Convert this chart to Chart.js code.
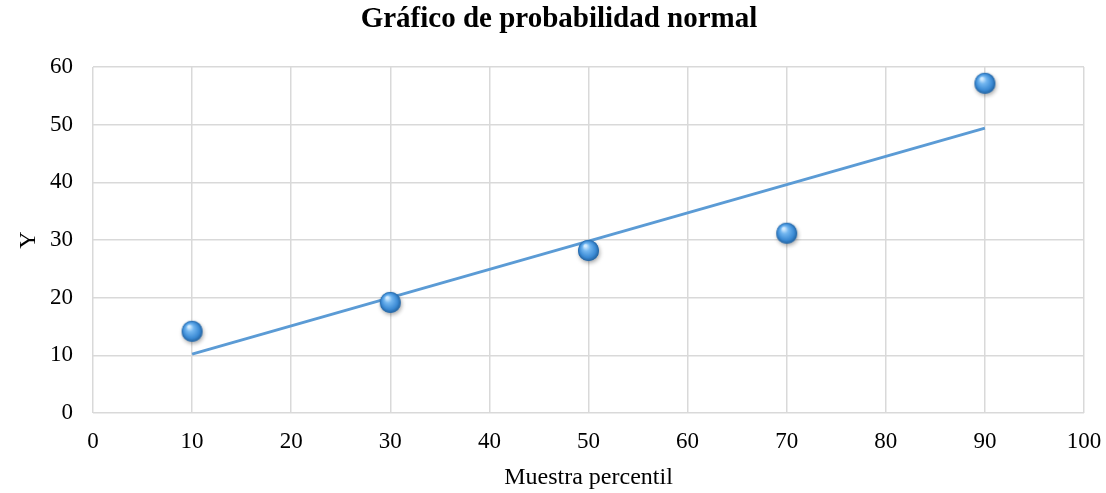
<!DOCTYPE html>
<html>
<head>
<meta charset="utf-8">
<script src="https://cdn.jsdelivr.net/npm/chart.js@4/dist/chart.umd.min.js"></script>
<style>
    html, body { margin: 0; padding: 0; background: #fff; }
    #wrap { width: 1106px; height: 493px; }
</style>
</head>
<body>
<div id="wrap"><canvas id="chart" width="1106" height="493"></canvas></div>
<script>
// =====================================
// DATA
// =====================================
const percentiles = [10, 30, 50, 70, 90];
const yValues = [14, 19, 28, 31, 57];
const trendX = [10, 90];
const trendY = [10.2, 49.4];

const serif = "'Liberation Serif', 'Times New Roman', serif";

// =====================================
// SPHERE MARKER
// =====================================
function makeSphere(r) {
    const size = r * 2 + 10;
    const c = document.createElement("canvas");
    c.width = size;
    c.height = size;
    const g = c.getContext("2d");
    const cx = size / 2, cy = size / 2 - 1;

    g.save();
    g.shadowColor = "rgba(0,0,0,0.35)";
    g.shadowBlur = 4;
    g.shadowOffsetX = 1;
    g.shadowOffsetY = 2;
    g.beginPath();
    g.arc(cx, cy, r, 0, Math.PI * 2);
    g.fillStyle = "#3a7fc4";
    g.fill();
    g.restore();

    const grad = g.createRadialGradient(cx - r * 0.3, cy - r * 0.45, r * 0.1, cx, cy, r);
    grad.addColorStop(0, "#d2ebff");
    grad.addColorStop(0.3, "#72b6f0");
    grad.addColorStop(0.75, "#3b8ad4");
    grad.addColorStop(1, "#22629f");
    g.beginPath();
    g.arc(cx, cy, r, 0, Math.PI * 2);
    g.fillStyle = grad;
    g.fill();
    return c;
}

const sphere = makeSphere(10.5);

// =====================================
// CHART
// =====================================
new Chart(document.getElementById("chart"), {
    type: "scatter",
    data: {
        datasets: [
            {
                label: "Tendencia",
                data: trendX.map((x, i) => ({ x: x, y: trendY[i] })),
                showLine: true,
                borderColor: "#5b9bd5",
                borderWidth: 3,
                pointRadius: 0,
                order: 2
            },
            {
                label: "Y",
                data: percentiles.map((x, i) => ({ x: x, y: yValues[i] })),
                pointStyle: sphere,
                pointRadius: 10,
                order: 1
            }
        ]
    },
    options: {
        responsive: false,
        animation: false,
        layout: { padding: { left: 12, right: 0, top: 0, bottom: 0 } },
        plugins: {
            legend: { display: false },
            tooltip: { enabled: false },
            title: {
                display: true,
                text: "Gráfico de probabilidad normal",
                color: "#000",
                font: { family: serif, size: 29, weight: "bold", lineHeight: 1.2 },
                padding: { top: 2.5, bottom: 29.7 }
            }
        },
        scales: {
            x: {
                type: "linear",
                min: 0,
                max: 100,
                ticks: {
                    stepSize: 10,
                    color: "#000",
                    padding: 15,
                    font: { family: serif, size: 23 }
                },
                grid: { color: "#d9d9d9", lineWidth: 1.5, drawTicks: false },
                border: { display: false },
                title: {
                    display: true,
                    text: "Muestra percentil",
                    color: "#000",
                    font: { family: serif, size: 24 },
                    padding: { top: 4, bottom: 1 }
                },
                afterFit: function(scale) {
                    scale.height = 80;
                    scale.paddingLeft = 0;
                    scale.paddingRight = 22;
                }
            },
            y: {
                min: 0,
                max: 60,
                ticks: {
                    stepSize: 10,
                    color: "#000",
                    padding: 20,
                    font: { family: serif, size: 23 }
                },
                grid: { color: "#d9d9d9", lineWidth: 1.5, drawTicks: false },
                border: { display: false },
                title: {
                    display: true,
                    text: "Y",
                    color: "#000",
                    font: { family: serif, size: 24 },
                    padding: { top: 2, bottom: 0 }
                },
                afterFit: function(scale) {
                    scale.width = 81;
                    scale.paddingTop = 0;
                    scale.paddingBottom = 0;
                }
            }
        }
    }
});
</script>
</body>
</html>
